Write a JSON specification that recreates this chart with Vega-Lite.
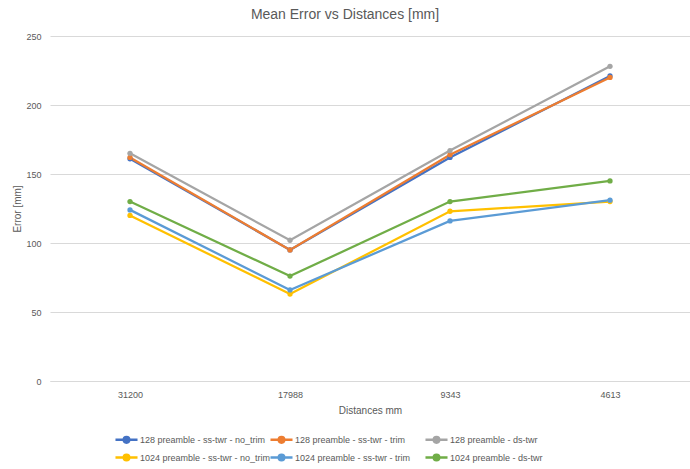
{
  "$schema": "https://vega.github.io/schema/vega-lite/v6.json",
  "width": 640,
  "height": 345,
  "autosize": {"type": "none"},
  "padding": {"left": 50, "top": 36, "right": 0, "bottom": 88},
  "background": "white",
  "title": {
    "text": "Mean Error vs Distances [mm]",
    "fontSize": 14,
    "font": "Liberation Sans",
    "fontWeight": "normal",
    "color": "#595959",
    "anchor": "middle",
    "dx": -25,
    "offset": 10
  },
  "config": {
    "view": {"stroke": null},
    "font": "Liberation Sans",
    "axis": {"labelColor": "#595959", "titleColor": "#595959", "labelFontSize": 9, "titleFontSize": 10, "titleFontWeight": "normal", "labelFont": "Liberation Sans", "titleFont": "Liberation Sans"}
  },
  "data": {
    "values": [
      {"distance": "31200", "series": "128 preamble - ss-twr - no_trim", "error": 161},
      {"distance": "17988", "series": "128 preamble - ss-twr - no_trim", "error": 95},
      {"distance": "9343", "series": "128 preamble - ss-twr - no_trim", "error": 162},
      {"distance": "4613", "series": "128 preamble - ss-twr - no_trim", "error": 221},
      {"distance": "31200", "series": "128 preamble - ss-twr - trim", "error": 162},
      {"distance": "17988", "series": "128 preamble - ss-twr - trim", "error": 95},
      {"distance": "9343", "series": "128 preamble - ss-twr - trim", "error": 164},
      {"distance": "4613", "series": "128 preamble - ss-twr - trim", "error": 220},
      {"distance": "31200", "series": "128 preamble - ds-twr", "error": 165},
      {"distance": "17988", "series": "128 preamble - ds-twr", "error": 102},
      {"distance": "9343", "series": "128 preamble - ds-twr", "error": 167},
      {"distance": "4613", "series": "128 preamble - ds-twr", "error": 228},
      {"distance": "31200", "series": "1024 preamble - ss-twr - no_trim", "error": 120},
      {"distance": "17988", "series": "1024 preamble - ss-twr - no_trim", "error": 63},
      {"distance": "9343", "series": "1024 preamble - ss-twr - no_trim", "error": 123},
      {"distance": "4613", "series": "1024 preamble - ss-twr - no_trim", "error": 130},
      {"distance": "31200", "series": "1024 preamble - ss-twr - trim", "error": 124},
      {"distance": "17988", "series": "1024 preamble - ss-twr - trim", "error": 66},
      {"distance": "9343", "series": "1024 preamble - ss-twr - trim", "error": 116},
      {"distance": "4613", "series": "1024 preamble - ss-twr - trim", "error": 131},
      {"distance": "31200", "series": "1024 preamble - ds-twr", "error": 130},
      {"distance": "17988", "series": "1024 preamble - ds-twr", "error": 76},
      {"distance": "9343", "series": "1024 preamble - ds-twr", "error": 130},
      {"distance": "4613", "series": "1024 preamble - ds-twr", "error": 145}
    ]
  },
  "mark": {"type": "line", "strokeWidth": 2.25, "point": {"filled": true, "size": 28}},
  "encoding": {
    "x": {
      "field": "distance",
      "type": "ordinal",
      "sort": ["31200", "17988", "9343", "4613"],
      "scale": {"paddingOuter": 0.5},
      "title": "Distances mm",
      "axis": {"labelAngle": 0, "ticks": false, "domainColor": "#D9D9D9", "labelPadding": 9, "titlePadding": 6, "grid": false}
    },
    "y": {
      "field": "error",
      "type": "quantitative",
      "scale": {"domain": [0, 250]},
      "title": "Error [mm]",
      "axis": {"values": [0, 50, 100, 150, 200, 250], "domain": false, "ticks": false, "gridColor": "#D9D9D9", "labelPadding": 9, "titlePadding": 3}
    },
    "color": {
      "field": "series",
      "type": "nominal",
      "sort": ["128 preamble - ss-twr - no_trim", "128 preamble - ss-twr - trim", "128 preamble - ds-twr", "1024 preamble - ss-twr - no_trim", "1024 preamble - ss-twr - trim", "1024 preamble - ds-twr"],
      "scale": {
        "domain": ["128 preamble - ss-twr - no_trim", "128 preamble - ss-twr - trim", "128 preamble - ds-twr", "1024 preamble - ss-twr - no_trim", "1024 preamble - ss-twr - trim", "1024 preamble - ds-twr"],
        "range": ["#4472C4", "#ED7D31", "#A5A5A5", "#FFC000", "#5B9BD5", "#70AD47"]
      },
      "legend": {
        "title": null,
        "orient": "none",
        "direction": "horizontal",
        "legendX": 69,
        "legendY": 396,
        "columns": 3,
        "gridAlign": "all",
        "columnPadding": -6,
        "rowPadding": 1,
        "labelFontSize": 9,
        "labelColor": "#595959",
        "labelLimit": 200,
        "labelOffset": 6,
        "symbolType": "M-1.8,0L1.8,0M-0.45,0A0.45,0.45 0 1,1 0.45,0A0.45,0.45 0 1,1 -0.45,0",
        "symbolSize": 150,
        "symbolStrokeWidth": 2.5
      }
    }
  }
}
